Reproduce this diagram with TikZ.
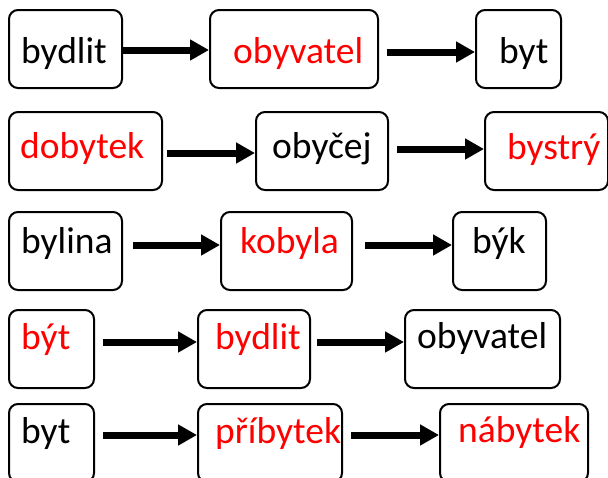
\documentclass[tikz,border=0pt]{standalone}
\usepackage{fontspec}
\setmainfont{Carlito}
\usetikzlibrary{arrows.meta}
\definecolor{wred}{RGB}{255,0,0}
\tikzset{
  wbox/.style={draw=black, line width=2pt, rounded corners=9pt, anchor=north west, inner sep=0pt, fill=white},
  wtxt/.style={anchor=base west, inner sep=0pt, font=\fontsize{37.5}{45}\selectfont},
  rtxt/.style={wtxt, text=wred},
  arr/.style={line width=7pt, -{Triangle[length=19pt,width=20pt]}, shorten >=0pt}
}
\begin{document}
\begin{tikzpicture}[x=1pt,y=-1pt]
\useasboundingbox (0,0) rectangle (608,477);
\clip (0,0) rectangle (608,477);
% row 1
\node[wbox, minimum width=113pt, minimum height=78pt] (b11) at (8,9) {};
\node[wbox, minimum width=168pt, minimum height=78pt] (b12) at (209,9) {};
\node[wbox, minimum width=85pt, minimum height=78pt] (b13) at (475,9) {};
\node[wtxt] (t11) at (21,63) {bydlit};
\node[rtxt] (t12) at (233,63) {obyvatel};
\node[wtxt] (t13) at (499,63) {byt};
\coordinate (s11) at (122,50);
\coordinate (s12) at (387,52);
\draw[arr] (s11) -- (b12.west |- s11);
\draw[arr] (s12) -- (b13.west |- s12);
% row 2
\node[wbox, minimum width=153pt, minimum height=78pt] (b21) at (8,111) {};
\node[wbox, minimum width=132pt, minimum height=78pt] (b22) at (255,111) {};
\node[wbox, minimum width=123pt, minimum height=78pt] (b23) at (484,111) {};
\node[rtxt] (t21) at (20,158) {dobytek};
\node[wtxt] (t22) at (272,158) {obyčej};
\node[rtxt] (t23) at (507,159) {bystrý};
\coordinate (s21) at (167,153);
\coordinate (s22) at (397,149);
\draw[arr] (s21) -- (b22.west |- s21);
\draw[arr] (s22) -- (b23.west |- s22);
% row 3
\node[wbox, minimum width=113pt, minimum height=78pt] (b31) at (8,211) {};
\node[wbox, minimum width=131pt, minimum height=78pt] (b32) at (220,211) {};
\node[wbox, minimum width=93pt, minimum height=78pt] (b33) at (452,211) {};
\node[wtxt] (t31) at (21,253) {bylina};
\node[rtxt] (t32) at (240,253) {kobyla};
\node[wtxt] (t33) at (472,253) {býk};
\coordinate (s31) at (133,245);
\coordinate (s32) at (365,245);
\draw[arr] (s31) -- (b32.west |- s31);
\draw[arr] (s32) -- (b33.west |- s32);
% row 4
\node[wbox, minimum width=85pt, minimum height=78pt] (b41) at (8,309) {};
\node[wbox, minimum width=112pt, minimum height=78pt] (b42) at (197,309) {};
\node[wbox, minimum width=155pt, minimum height=78pt] (b43) at (404,309) {};
\node[rtxt] (t41) at (21,349) {být};
\node[rtxt] (t42) at (215,349) {bydlit};
\node[wtxt] (t43) at (417,348) {obyvatel};
\coordinate (s41) at (103,342);
\coordinate (s42) at (317,342);
\draw[arr] (s41) -- (b42.west |- s41);
\draw[arr] (s42) -- (b43.west |- s42);
% row 5
\node[wbox, minimum width=85pt, minimum height=78pt] (b51) at (8,403) {};
\node[wbox, minimum width=144pt, minimum height=78pt] (b52) at (197,403) {};
\node[wbox, minimum width=148pt, minimum height=78pt] (b53) at (439,403) {};
\node[wtxt] (t51) at (21,443) {byt};
\node[rtxt] (t52) at (215,443) {příbytek};
\node[rtxt] (t53) at (458,442) {nábytek};
\coordinate (s51) at (103,435);
\coordinate (s52) at (351,435);
\draw[arr] (s51) -- (b52.west |- s51);
\draw[arr] (s52) -- (b53.west |- s52);
\end{tikzpicture}
\end{document}
